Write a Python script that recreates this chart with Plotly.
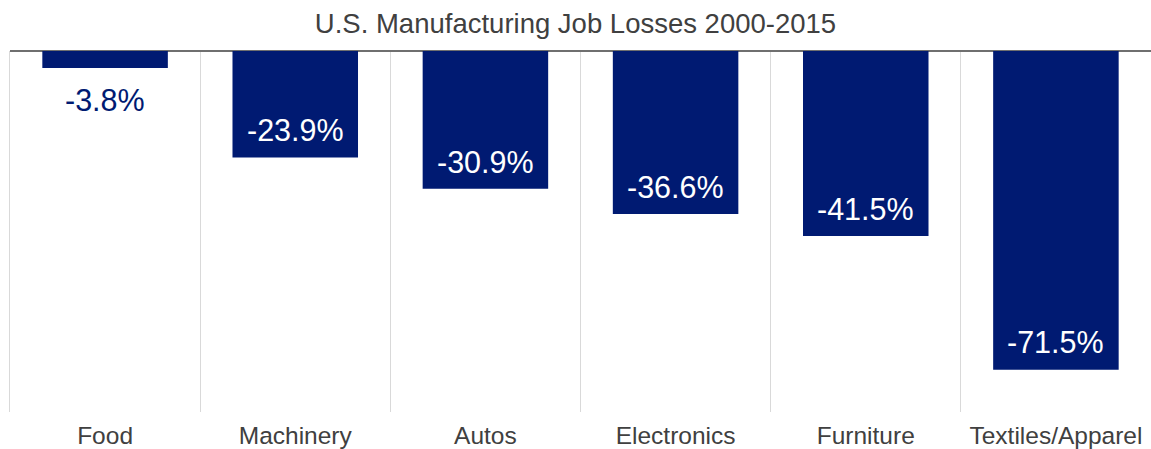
import plotly.graph_objects as go

categories = ["Food", "Machinery", "Autos", "Electronics", "Furniture", "Textiles/Apparel"]
values = [-3.8, -23.9, -30.9, -36.6, -41.5, -71.5]
labels = ["-3.8%", "-23.9%", "-30.9%", "-36.6%", "-41.5%", "-71.5%"]
inside = [False, True, True, True, True, True]

NAVY = "#001a72"
FONT = "Liberation Sans, Arial, sans-serif"

fig = go.Figure()
fig.add_trace(go.Bar(
    x=categories, y=values, marker=dict(color=NAVY, line=dict(width=0)),
    width=0.66, hoverinfo="skip",
))

annotations = []
for c, v, t, ins in zip(categories, values, labels, inside):
    annotations.append(dict(
        x=c, y=v + 6.1 if ins else v - 7.2, xref="x", yref="y",
        text=t, showarrow=False, yanchor="middle",
        font=dict(family=FONT, size=30.5, color="white" if ins else NAVY),
    ))

fig.update_layout(
    width=1151, height=449,
    margin=dict(l=10, r=0, t=51, b=37),
    paper_bgcolor="white", plot_bgcolor="white",
    title=dict(text="U.S. Manufacturing Job Losses 2000-2015", x=0.5, xanchor="center",
               y=1 - 23 / 449, yanchor="middle", yref="container",
               font=dict(family=FONT, size=27.5, color="#404040")),
    annotations=annotations,
    showlegend=False,
    xaxis=dict(
        tickson="boundaries", showgrid=True, gridcolor="#d9d9d9", gridwidth=1,
        ticks="", ticklabelstandoff=6, automargin=False,
        tickfont=dict(family=FONT, size=24.5, color="#404040"),
        showline=False, zeroline=False,
    ),
    yaxis=dict(
        range=[-81, 0], showgrid=False, showticklabels=False,
        zeroline=True, zerolinecolor="#6f6f6f", zerolinewidth=2,
        showline=True, linecolor="#d9d9d9", linewidth=1,
    ),
)

fig.write_html("out.html")
